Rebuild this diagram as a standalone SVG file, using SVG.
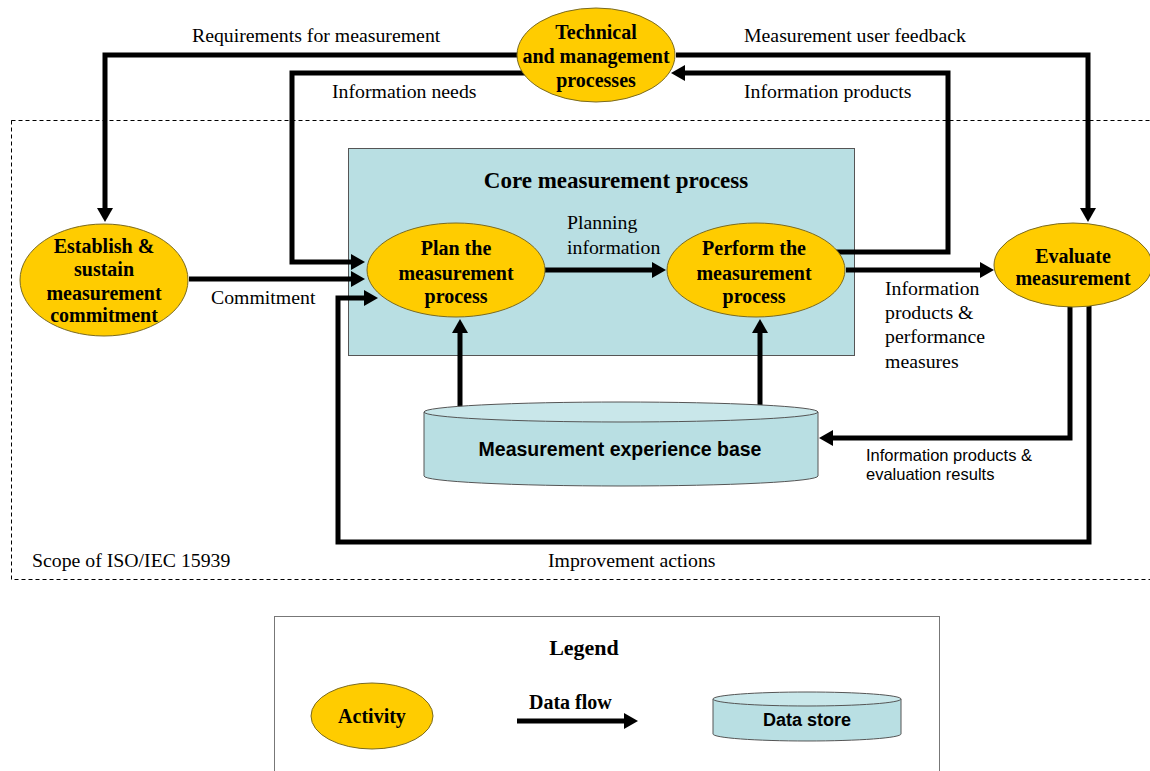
<svg xmlns="http://www.w3.org/2000/svg" width="1150" height="771" viewBox="0 0 1150 771">
  <style>
    .act { fill: #ffcc00; stroke: #7a6a20; stroke-width: 1; }
    .store { fill: #b9dfe3; stroke: #555; stroke-width: 1; }
    .storetop { fill: #c9e7ea; stroke: #555; stroke-width: 1; }
    .flow { fill: none; stroke: #000; stroke-width: 5; stroke-linejoin: miter; marker-end: url(#head); }
    .bt { font-family: "Liberation Serif", "Times New Roman", serif; font-weight: bold; font-size: 20px; fill: #000; text-anchor: middle; }
    .lbl { font-family: "Liberation Serif", "Times New Roman", serif; font-size: 19.8px; fill: #000; }
    .sans { font-family: "Liberation Sans", Arial, sans-serif; fill: #000; }
  </style>
  <defs>
    <marker id="head" markerUnits="userSpaceOnUse" markerWidth="15" markerHeight="17" refX="1" refY="8" orient="auto" viewBox="0 0 15 16">
      <path d="M0,0 L14,8 L0,16 z" fill="#000"/>
    </marker>
  </defs>

  <!-- scope boundary -->
  <rect x="11.5" y="120.5" width="1160" height="459" fill="none" stroke="#000" stroke-width="1" stroke-dasharray="4,3"/>
  <text class="lbl" x="32" y="567">Scope of ISO/IEC 15939</text>

  <!-- core measurement process area -->
  <g id="core">
    <rect x="348.5" y="148.5" width="506" height="207" fill="#b9dfe3" stroke="#555" stroke-width="1"/>
    <text class="bt" x="616" y="188" style="font-size:23px">Core measurement process</text>
  </g>

  <!-- connectors -->
  <g id="connectors">
    <path class="flow" d="M518,55 H105 V209"/>
    <path class="flow" d="M525,73 H292 V262 H352"/>
    <path class="flow" d="M189,279 H352"/>
    <path class="flow" d="M676,55 H1088 V209"/>
    <path class="flow" d="M836,252 H948 V73 H684"/>
    <path class="flow" d="M545,270 H653"/>
    <path class="flow" d="M846,270 H981"/>
    <path class="flow" d="M1070,305 V438 H832"/>
    <path class="flow" d="M1089,305 V542 H338 V298 H365"/>
    <path class="flow" d="M460,410 V332"/>
    <path class="flow" d="M760,410 V332"/>
  </g>

  <!-- connector labels -->
  <g id="labels">
    <text class="lbl" x="192" y="42">Requirements for measurement</text>
    <text class="lbl" x="332" y="98">Information needs</text>
    <text class="lbl" x="744" y="42">Measurement user feedback</text>
    <text class="lbl" x="744" y="98">Information products</text>
    <text class="lbl" x="567" y="229">Planning</text>
    <text class="lbl" x="567" y="254">information</text>
    <text class="lbl" x="211" y="304">Commitment</text>
    <text class="lbl" x="885" y="295">Information</text>
    <text class="lbl" x="885" y="319">products &amp;</text>
    <text class="lbl" x="885" y="343">performance</text>
    <text class="lbl" x="885" y="368">measures</text>
    <text class="sans" x="866" y="461" font-size="16.5">Information products &amp;</text>
    <text class="sans" x="866" y="480" font-size="16.5">evaluation results</text>
    <text class="lbl" x="548" y="567">Improvement actions</text>
  </g>

  <g id="tech">
    <ellipse class="act" cx="596" cy="55" rx="79" ry="47"/>
    <text class="bt" x="596" y="39">Technical</text>
    <text class="bt" x="596" y="63">and management</text>
    <text class="bt" x="596" y="87">processes</text>
  </g>

  <g id="establish">
    <ellipse class="act" cx="104" cy="280" rx="84" ry="56"/>
    <text class="bt" x="104" y="253">Establish &amp;</text>
    <text class="bt" x="104" y="276">sustain</text>
    <text class="bt" x="104" y="300">measurement</text>
    <text class="bt" x="104" y="322">commitment</text>
  </g>

  <g id="plan">
    <ellipse class="act" cx="456" cy="270" rx="89" ry="47"/>
    <text class="bt" x="456" y="255">Plan the</text>
    <text class="bt" x="456" y="280">measurement</text>
    <text class="bt" x="456" y="303">process</text>
  </g>

  <g id="perform">
    <ellipse class="act" cx="756" cy="270" rx="89" ry="47"/>
    <text class="bt" x="754" y="255">Perform the</text>
    <text class="bt" x="754" y="280">measurement</text>
    <text class="bt" x="754" y="303">process</text>
  </g>

  <g id="evaluate">
    <ellipse class="act" cx="1073" cy="265" rx="79" ry="42"/>
    <text class="bt" x="1073" y="263">Evaluate</text>
    <text class="bt" x="1073" y="285">measurement</text>
  </g>

  <g id="experience-base">
    <path class="store" d="M424,412 V476 A197,10 0 0 0 818,476 V412 Z"/>
    <ellipse class="storetop" cx="621" cy="412" rx="197" ry="10"/>
    <text class="sans" x="620" y="456" font-size="19.5" font-weight="bold" text-anchor="middle">Measurement experience base</text>
  </g>

  <!-- legend -->
  <g id="legend">
    <rect x="274.5" y="616.5" width="665" height="170" fill="#fff" stroke="#777" stroke-width="1"/>
    <text class="bt" x="584" y="655" style="font-size:22px">Legend</text>
    <ellipse class="act" cx="372" cy="716" rx="61" ry="33"/>
    <text class="bt" x="372" y="723">Activity</text>
    <text class="bt" x="529" y="709" style="text-anchor:start">Data flow</text>
    <path class="flow" d="M517,721 H625"/>
    <path class="store" d="M713,699 V734 A94,7 0 0 0 901,734 V699 Z"/>
    <ellipse class="storetop" cx="807" cy="699" rx="94" ry="7"/>
    <text class="sans" x="807" y="726" font-size="18" font-weight="bold" text-anchor="middle">Data store</text>
  </g>
</svg>
